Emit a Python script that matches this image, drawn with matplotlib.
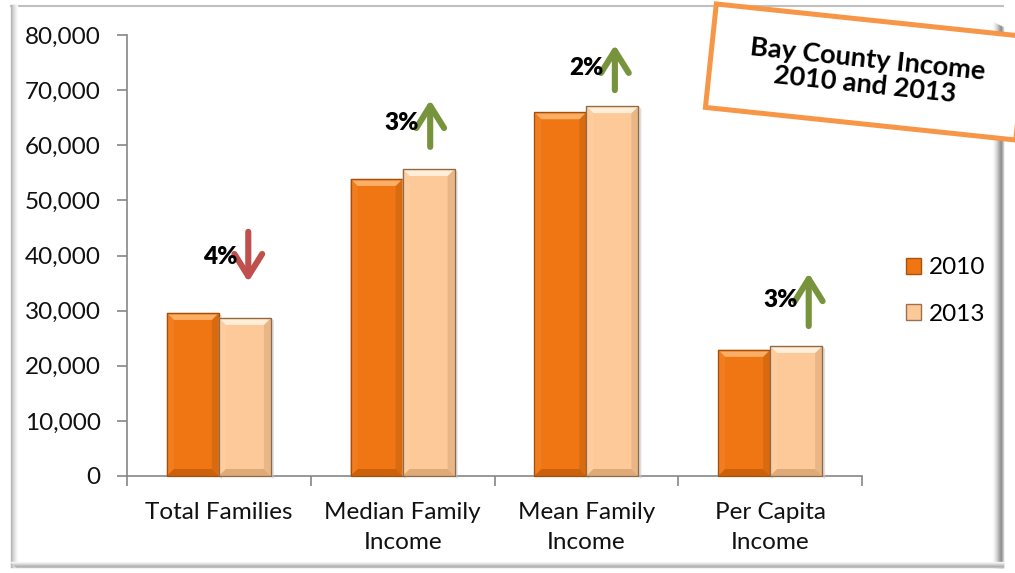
import matplotlib
matplotlib.use("Agg")
import matplotlib.pyplot as plt
from matplotlib.patches import Polygon, FancyArrowPatch, Patch
from matplotlib.transforms import IdentityTransform
from matplotlib.lines import Line2D
import numpy as np

categories = ["Total Families", "Median Family\nIncome", "Mean Family\nIncome", "Per Capita\nIncome"]
years = ["2010", "2013"]
values_2010 = [29600, 53900, 66000, 22900]
values_2013 = [28700, 55700, 67100, 23600]
pct_labels = ["4%", "3%", "2%", "3%"]
arrow_start = [44300, 59700, 70000, 27200]
arrow_end = [35200, 68200, 78200, 36800]
arrow_dir = ["down", "up", "up", "up"]
yticks = [0, 10000, 20000, 30000, 40000, 50000, 60000, 70000, 80000]
title_text = "Bay County Income\n2010 and 2013"

FONT = "Lato"
plt.rcParams["font.family"] = [FONT, "DejaVu Sans"]

W, H = 1015, 573
fig = plt.figure(figsize=(W / 100, H / 100), dpi=100)
fig.patch.set_facecolor("white")

ax = fig.add_axes([127 / W, (H - 476) / H, 735 / W, 441 / H])
ax.set_facecolor("none")

x = np.arange(len(categories))
bw = 0.283
c10, c13 = "#F07614", "#FDC998"
b10 = ax.bar(x - bw / 2, values_2010, bw, color=c10, edgecolor="#A9520C", linewidth=0.8, zorder=3)
b13 = ax.bar(x + bw / 2, values_2013, bw, color=c13, edgecolor="#9A7250", linewidth=0.8, zorder=3)

ax.set_xlim(-0.5, len(categories) - 0.5)
ax.set_ylim(0, 80000)
ax.set_yticks(yticks)
ax.set_yticklabels([f"{v:,}" for v in yticks])
ax.set_xticks(np.arange(len(categories) + 1) - 0.5)
ax.set_xticklabels([])
ax.set_xticks(x, minor=True)
ax.set_xticklabels(categories, minor=True)
ax.tick_params(axis="x", which="minor", length=0, pad=19, labelsize=17.5, labelcolor="#111111")
ax.tick_params(axis="x", which="major", length=7, color="#868686", width=1.2)
ax.tick_params(axis="y", length=7, color="#868686", width=1.2, pad=12, labelsize=17.5, labelcolor="#111111")
for lbl in ax.get_xticklabels(minor=True):
    lbl.set_linespacing(1.5)
for s in ["top", "right"]:
    ax.spines[s].set_visible(False)
for s in ["left", "bottom"]:
    ax.spines[s].set_color("#868686")
    ax.spines[s].set_linewidth(1.2)

# percent labels and arrows
offs = [0.16, 0.15, 0.155, 0.21]
for i in range(len(categories)):
    col = "#C0504D" if arrow_dir[i] == "down" else "#77933C"
    arr = FancyArrowPatch((i + offs[i], arrow_start[i]), (i + offs[i], arrow_end[i]),
                          arrowstyle="->,head_length=0.8,head_width=0.5",
                          color=col, lw=4.4, capstyle="round", joinstyle="round",
                          mutation_scale=20, zorder=5, shrinkA=0, shrinkB=0)
    ax.add_patch(arr)
    ty = (arrow_start[i] + arrow_end[i]) / 2
    ax.text(i + offs[i] - 0.06, ty, pct_labels[i], ha="right", va="center",
            fontsize=17.5, fontweight="heavy", color="black", zorder=6)

# bevel effect
fig.canvas.draw()
def bevel(bars, top, topin, left, right, bottom, shade):
    for p in bars:
        (x0, y0), (x1, y1) = ax.transData.transform([(p.get_x(), 0), (p.get_x() + p.get_width(), p.get_height())])
        b = 7
        sh = Polygon([(x1, y0 - 1), (x1 + 3, y0 - 3), (x1 + 3, y1 - 3), (x1, y1)], closed=True,
                     transform=IdentityTransform(), facecolor="#C8C8C8", edgecolor="none", alpha=0.6, zorder=2)
        fig.add_artist(sh)
        polys = [
            ([(x0, y0), (x0, y1), (x0 + b, y1 - b), (x0 + b, y0 + b)], left),
            ([(x1, y0), (x1, y1), (x1 - b, y1 - b), (x1 - b, y0 + b)], right),
            ([(x0, y0), (x1, y0), (x1 - b, y0 + b), (x0 + b, y0 + b)], bottom),
            ([(x0, y1), (x1, y1), (x1 - b, y1 - b), (x0 + b, y1 - b)], top),
            ([(x0 + 2, y1 - 2), (x1 - 2, y1 - 2), (x1 - b, y1 - b), (x0 + b, y1 - b)], topin),
        ]
        for pts, col in polys:
            fig.add_artist(Polygon(pts, closed=True, transform=IdentityTransform(),
                                   facecolor=col, edgecolor="none", zorder=4))
        fig.add_artist(Polygon([(x0, y0), (x0, y1), (x1, y1), (x1, y0)], closed=True,
                               transform=IdentityTransform(), facecolor="none",
                               edgecolor=shade, lw=0.9, zorder=4))

bevel(b10, "#F7933D", "#FAAE66", "#F17D1F", "#D86A10", "#CC610C", "#A0500C")
bevel(b13, "#FEDDB8", "#FFEFD9", "#FDCDA0", "#E9B685", "#DDAA78", "#8E6A4A")

# legend
handles = [Patch(facecolor=c10, edgecolor="#A9520C"), Patch(facecolor=c13, edgecolor="#9A7250")]
leg = fig.legend(handles, years, loc="center left", bbox_to_anchor=(894 / W, 1 - 291 / H),
                 frameon=False, fontsize=17.5, handlelength=0.62, handleheight=0.62,
                 handletextpad=0.3, labelspacing=1.05, borderpad=0)

# title box (rotated)
ang = -6.0
cx, cy = 866, H - 72
bwid, bhei = 312, 104
t = np.deg2rad(ang)
R = np.array([[np.cos(t), -np.sin(t)], [np.sin(t), np.cos(t)]])
corners = np.array([[-bwid / 2, -bhei / 2], [bwid / 2, -bhei / 2], [bwid / 2, bhei / 2], [-bwid / 2, bhei / 2]]) @ R.T + [cx, cy]
fig.add_artist(Polygon(corners, closed=True, transform=IdentityTransform(), facecolor="white",
                       edgecolor="#F79646", lw=3.6, zorder=10))
fig.text(cx / W, cy / H, title_text, rotation=ang, rotation_mode="anchor", ha="center", va="center",
         fontsize=19.5, fontweight="bold", color="black", zorder=11, linespacing=1.05)

# outer frame with shadows
def vline(xp, y0p, y1p, col, lw=1.0, z=0):
    fig.add_artist(Line2D([xp, xp], [H - y0p, H - y1p], transform=IdentityTransform(), color=col, lw=lw, zorder=z))
def hline(y, x0p, x1p, col, lw=1.0, z=0):
    fig.add_artist(Line2D([x0p, x1p], [H - y, H - y], transform=IdentityTransform(), color=col, lw=lw, zorder=z))

hline(5.5, 11, 1003, "#C0C0C0", 1.5)
left_grad = ["#B4B4B4", "#C4C4C4", "#D2D2D2", "#DEDEDE", "#E8E8E8", "#F1F1F1", "#F8F8F8"]
for k, c in enumerate(left_grad):
    vline(11 + k, 5, 567, c, 1.0)
right_grad = ["#FAFAFA", "#F2F2F2", "#E8E8E8", "#DCDCDC", "#CDCDCD", "#BDBDBD", "#ABABAB", "#9A9A9A", "#8E8E8E", "#A6A6A6", "#C8C8C8"]
for k, c in enumerate(right_grad):
    vline(993 + k, 22 + k * 0.5, 567, c, 1.0)
bot_grad = ["#F6F6F6", "#E9E9E9", "#D8D8D8", "#C4C4C4", "#B0B0B0", "#BEBEBE"]
for k, c in enumerate(bot_grad):
    hline(562 + k, 11 + k, 1003, c, 1.0)

fig.savefig("out.png", dpi=100, facecolor="white")
